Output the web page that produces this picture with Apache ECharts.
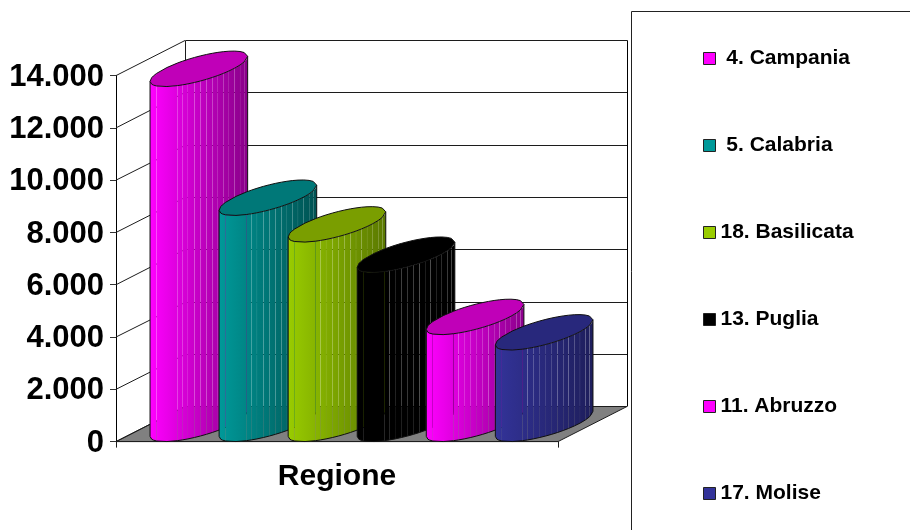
<!DOCTYPE html>
<html>
<head>
<meta charset="utf-8">
<style>html,body{margin:0;padding:0;background:#fff}#chart{width:910px;height:530px}</style>
<script src="https://cdn.jsdelivr.net/npm/echarts@6/dist/echarts.min.js"></script>
</head>
<body>
<div id="chart"></div>
<script>
// Regional totals, one cylinder per region
const CATEGORIES = ['Regione'];
const REGIONS = ['4. Campania', '5. Calabria', '18. Basilicata', '13. Puglia', '11. Abruzzo', '17. Molise'];
const VALUES = [13580, 8650, 7630, 6470, 4090, 3500];
const Y_TICKS = [0, 2000, 4000, 6000, 8000, 10000, 12000, 14000];

const LIGHT = ['#ff00ff', '#009999', '#99cc00', '#000000', '#ff00ff', '#333399'];
const DARK = ['#880088', '#005252', '#5a7800', '#000000', '#8c008c', '#1e1e5c'];
const CAP = ['#c000b8', '#007878', '#7a9e00', '#000000', '#c000b8', '#28287c'];

// Oblique projection of the floor, and the slat seams round each cylinder (fractions of its width)
const DEPTH_X = 69;
const DEPTH_Y = 35.5;
const SLATS = [0, 0.067, 0.279, 0.33, 0.388, 0.456, 0.518, 0.579, 0.638, 0.695, 0.75, 0.808, 0.867, 0.922, 0.964, 1];
const SEAM = 0.05;
const BAND_SLOTS = REGIONS.length + 0.4;

const chart = echarts.init(document.getElementById('chart'));

function crisp(v) { return Math.round(v) + 0.5; }

function renderFrame(params, api) {
  const g = params.coordSys;
  const left = g.x, right = g.x + g.width;
  const y0 = api.coord([0, 0])[1];
  const line = (x1, y1, x2, y2, color) => ({
    type: 'line',
    shape: { x1, y1, x2, y2 },
    style: { stroke: color || '#1c1c1c', lineWidth: 1, fill: null },
    silent: true
  });
  const backY0 = crisp(y0 - DEPTH_Y);
  const children = [{
    type: 'polygon',
    shape: { points: [[left, y0], [left + DEPTH_X, backY0], [right + DEPTH_X, backY0], [right, y0]] },
    style: { fill: '#808080', stroke: '#1c1c1c', lineWidth: 1 },
    silent: true
  }];
  Y_TICKS.forEach(v => {
    const y = api.coord([0, v])[1];
    const by = crisp(y - DEPTH_Y);
    children.push(line(left, y, left + DEPTH_X, by));
    if (v > 0) children.push(line(crisp(left + DEPTH_X), by, crisp(right + DEPTH_X), by));
  });
  const topY = crisp(api.coord([0, Y_TICKS[Y_TICKS.length - 1]])[1] - DEPTH_Y);
  children.push(line(crisp(left + DEPTH_X), topY, crisp(left + DEPTH_X), backY0));
  children.push(line(crisp(right + DEPTH_X), topY, crisp(right + DEPTH_X), backY0, '#000'));
  return { type: 'group', children };
}

function cylinderRenderer(index) {
  return function (params, api) {
    const top = api.coord([api.value(0), api.value(1)]);
    const base = api.coord([api.value(0), 0]);
    const band = api.size([1, 0])[0];
    const step = band / BAND_SLOTS;
    const cx = base[0] + (index - (REGIONS.length - 1) / 2) * step + DEPTH_X / 2;
    const a = step / 2, b = DEPTH_X / 2, c = DEPTH_Y / 2;
    const R = Math.hypot(a, b), phase = Math.atan2(b, a);
    const baseY = base[1] - c;
    const topY = top[1] - c;

    // Point on the near (sign=1) or far (sign=-1) half of an ellipse centred at height cy
    const rim = (f, cy, sign) => {
      const u = sign > 0 ? 2 * Math.PI - Math.acos(2 * f - 1) : Math.acos(2 * f - 1);
      return [cx + R * Math.cos(u), cy - c * Math.sin(u + phase)];
    };
    const gradient = new echarts.graphic.LinearGradient(cx - R, 0, cx + R, 0, [
      { offset: 0, color: LIGHT[index] },
      { offset: 1, color: DARK[index] }
    ], true);

    const children = [];
    const inset = SEAM / (2 * R);
    for (let k = 0; k < SLATS.length - 1; k++) {
      const f0 = SLATS[k] + (k ? inset : 0);
      const f1 = SLATS[k + 1] - (k < SLATS.length - 2 ? inset : 0);
      const samples = [0, 0.25, 0.5, 0.75, 1].map(s => f0 + (f1 - f0) * s);
      const pts = samples.map(f => rim(f, topY, 1))
        .concat(samples.slice().reverse().map(f => rim(f, baseY, 1)));
      children.push({
        type: 'polygon',
        shape: { points: pts },
        style: { fill: gradient, stroke: null },
        silent: true
      });
    }

    // Rounder rim towards the far left, where the slats are widest
    const near = [];
    SLATS.forEach((f, k) => {
      if (k === 1) near.push(f * 0.25, f * 0.5);
      if (k === 2) near.push(SLATS[1] + (f - SLATS[1]) * 0.5);
      near.push(f);
    });
    const outline = near.map(f => rim(f, baseY, 1));
    children.push({
      type: 'polyline',
      shape: { points: [rim(0, topY, 1)].concat(outline, [rim(1, topY, 1)]) },
      style: { stroke: '#101010', lineWidth: 1, fill: null },
      silent: true
    });
    const capPts = near.map(f => rim(f, topY, 1))
      .concat(near.slice().reverse().map(f => rim(f, topY, -1)));
    children.push({
      type: 'polygon',
      shape: { points: capPts },
      style: { fill: CAP[index], stroke: '#101010', lineWidth: 1 },
      silent: true
    });
    return { type: 'group', children };
  };
}

const series = [{
  type: 'custom',
  name: 'frame',
  z: 1,
  silent: true,
  renderItem: renderFrame,
  encode: { x: 0, y: 1 },
  data: [[0, 0]]
}].concat(REGIONS.map((name, i) => ({
  type: 'custom',
  name,
  z: 2 + i,
  silent: true,
  renderItem: cylinderRenderer(i),
  encode: { x: 0, y: 1 },
  itemStyle: { color: LIGHT[i] },
  data: [[0, VALUES[i]]]
})));

chart.setOption({
  animation: false,
  backgroundColor: '#fff',
  grid: { left: 116, top: 75.6, width: 442, height: 366 },
  xAxis: {
    type: 'category',
    data: CATEGORIES,
    axisLine: { lineStyle: { color: '#000', width: 1 } },
    axisTick: { show: true, length: 6, lineStyle: { color: '#1c1c1c' } },
    axisLabel: {
      margin: 20,
      fontFamily: '"Liberation Sans", Arial, sans-serif',
      fontWeight: 'bold',
      fontSize: 30,
      color: '#000'
    }
  },
  yAxis: {
    type: 'value',
    min: 0,
    max: 14000,
    interval: 2000,
    splitLine: { show: false },
    axisLine: { show: true, lineStyle: { color: '#000', width: 1 } },
    axisTick: { show: true, length: 6, lineStyle: { color: '#333' } },
    axisLabel: {
      margin: 12,
      verticalAlign: 'top',
      lineHeight: 3,
      fontFamily: '"Liberation Sans", Arial, sans-serif',
      fontWeight: 'bold',
      fontSize: 31,
      color: '#000',
      formatter: v => String(v).replace(/\B(?=(\d{3})+$)/g, '.')
    }
  },
  legend: {
    data: REGIONS,
    orient: 'vertical',
    left: 703,
    top: 48,
    padding: 0,
    itemGap: 66,
    itemWidth: 12,
    itemHeight: 12,
    icon: 'rect',
    selectedMode: false,
    itemStyle: { borderColor: '#222', borderWidth: 1 },
    formatter: name => (/^\d\./.test(name) ? ' ' + name : name),
    textStyle: {
      fontFamily: '"Liberation Sans", Arial, sans-serif',
      fontWeight: 'bold',
      fontSize: 21,
      color: '#000'
    }
  },
  graphic: [{
    type: 'rect',
    shape: { x: 631.5, y: 11.5, width: 320, height: 560 },
    style: { fill: null, stroke: '#222', lineWidth: 1 },
    silent: true
  }],
  series
});
</script>
</body>
</html>
